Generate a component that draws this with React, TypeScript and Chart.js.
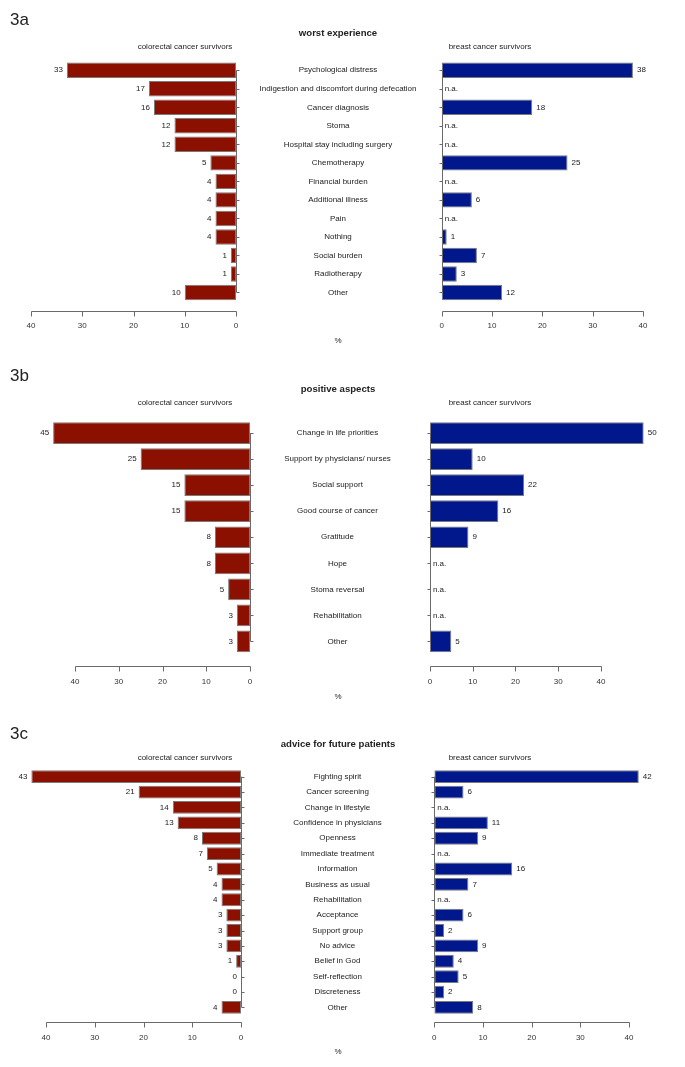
import React, { useEffect, useRef } from 'react';
import { Chart, registerables } from 'chart.js';

Chart.register(...registerables);

const FONT = "'Liberation Sans', Arial, Helvetica, sans-serif";
const RED = '#8B1000';
const BLUE = '#00188B';
const BAR_BORDER = '#7a7a7a';
const AXIS_COLOR = '#6a6a6a';
const TEXT_COLOR = '#222222';
const PAGE_W = 685;

const X_TICKS = [0, 10, 20, 30, 40];
const LEFT_TITLE = 'colorectal cancer survivors';
const RIGHT_TITLE = 'breast cancer survivors';
const AXIS_TITLE = '%';
const NA_TEXT = 'n.a.';

// ---- 3a ----
const A_TAG = '3a';
const A_TITLE = 'worst experience';
const A_CATEGORIES = [
  'Psychological distress',
  'Indigestion and discomfort during defecation',
  'Cancer diagnosis',
  'Stoma',
  'Hospital stay including surgery',
  'Chemotherapy',
  'Financial burden',
  'Additional illness',
  'Pain',
  'Nothing',
  'Social burden',
  'Radiotherapy',
  'Other',
];
const A_COLORECTAL = [33, 17, 16, 12, 12, 5, 4, 4, 4, 4, 1, 1, 10];
const A_BREAST = [38, null, 18, null, null, 25, null, 6, null, 1, 7, 3, 12];

// ---- 3b ----
const B_TAG = '3b';
const B_TITLE = 'positive aspects';
const B_CATEGORIES = [
  'Change in life priorities',
  'Support by physicians/ nurses',
  'Social support',
  'Good course of cancer',
  'Gratitude',
  'Hope',
  'Stoma reversal',
  'Rehabilitation',
  'Other',
];
const B_COLORECTAL = [45, 25, 15, 15, 8, 8, 5, 3, 3];
const B_BREAST = [50, 10, 22, 16, 9, null, null, null, 5];

// ---- 3c ----
const C_TAG = '3c';
const C_TITLE = 'advice for future patients';
const C_CATEGORIES = [
  'Fighting spirit',
  'Cancer screening',
  'Change in lifestyle',
  'Confidence in physicians',
  'Openness',
  'Immediate treatment',
  'Information',
  'Business as usual',
  'Rehabilitation',
  'Acceptance',
  'Support group',
  'No advice',
  'Belief in God',
  'Self-reflection',
  'Discreteness',
  'Other',
];
const C_COLORECTAL = [43, 21, 14, 13, 8, 7, 5, 4, 4, 3, 3, 3, 1, 0, 0, 4];
const C_BREAST = [42, 6, null, 11, 9, null, 16, 7, null, 6, 2, 9, 4, 5, 2, 8];

type Layout = {
  tagY: number;
  titleY: number;
  subY: number;
  firstRow: number;
  rowStep: number;
  axisY: number;
  tickLabelY: number;
  unitY: number;
  leftZero: number;
  leftForty: number;
  rightZero: number;
  rightForty: number;
  xMax: number;
};

const LAYOUT_A: Layout = {
  tagY: 19, titleY: 33, subY: 47, firstRow: 70, rowStep: 18.5,
  axisY: 311, tickLabelY: 325.5, unitY: 340.5,
  leftZero: 236, leftForty: 31, rightZero: 440, rightForty: 643, xMax: 40,
};
const LAYOUT_B: Layout = {
  tagY: 374.5, titleY: 388.5, subY: 403, firstRow: 433, rowStep: 26,
  axisY: 666, tickLabelY: 681.5, unitY: 697,
  leftZero: 250, leftForty: 75, rightZero: 425, rightForty: 600, xMax: 50,
};
const LAYOUT_C: Layout = {
  tagY: 733, titleY: 744, subY: 758, firstRow: 777, rowStep: 15.33,
  axisY: 1022.5, tickLabelY: 1037.5, unitY: 1052,
  leftZero: 241, leftForty: 46, rightZero: 434, rightForty: 629, xMax: 45,
};

type SideProps = {
  categories: string[];
  values: (number | null)[];
  side: 'left' | 'right';
  color: string;
  layout: Layout;
};

function SideChart({ categories, values, side, color, layout }: SideProps) {
  const ref = useRef<HTMLCanvasElement | null>(null);
  const n = categories.length;
  const chartTop = layout.firstRow - layout.rowStep / 2;
  const chartH = n * layout.rowStep;
  const chartBottom = chartTop + chartH;
  const axisH = layout.tickLabelY + 10 - chartBottom;
  const canvasH = Math.ceil(chartH + axisH);
  const isLeft = side === 'left';
  const canvasLeft = isLeft ? 0 : layout.rightZero - 20;
  const canvasW = isLeft ? layout.rightZero - 6 : PAGE_W - canvasLeft;

  useEffect(() => {
    const canvas = ref.current;
    if (!canvas) return;
    const zeroAbs = isLeft ? layout.leftZero : layout.rightZero;
    const fortyAbs = isLeft ? layout.leftForty : layout.rightForty;
    const ppu = Math.abs(zeroAbs - fortyAbs) / 40;
    const zeroRel = zeroAbs - canvasLeft;
    let padLeft = 0;
    let padRight = 0;
    let yWidth = 0;
    if (isLeft) {
      padLeft = zeroRel - ppu * layout.xMax;
      yWidth = canvasW - zeroRel;
    } else {
      yWidth = zeroRel;
      padRight = canvasW - (zeroRel + ppu * layout.xMax);
    }
    const axisYRel = layout.axisY - chartTop;
    const labelPad = layout.tickLabelY - chartBottom - 4.8;
    const centerX = (layout.leftZero + layout.rightZero) / 2 - canvasLeft;

    const decor = {
      id: 'sideDecor',
      afterDraw(chart: any) {
        const ctx = chart.ctx as CanvasRenderingContext2D;
        const xs = chart.scales.x;
        const ys = chart.scales.y;
        const zx = Math.round(xs.getPixelForValue(0)) + 0.5;
        ctx.save();
        ctx.strokeStyle = AXIS_COLOR;
        ctx.lineWidth = 1;
        // value axis (only spanning its ticks)
        const tv = xs.ticks.map((t: any) => t.value);
        const ay = Math.round(axisYRel) + 0.5;
        ctx.beginPath();
        ctx.moveTo(Math.round(xs.getPixelForValue(tv[0])) + 0.5, ay);
        ctx.lineTo(Math.round(xs.getPixelForValue(tv[tv.length - 1])) + 0.5, ay);
        tv.forEach((v: number) => {
          const px = Math.round(xs.getPixelForValue(v)) + 0.5;
          ctx.moveTo(px, ay);
          ctx.lineTo(px, ay + 5);
        });
        ctx.stroke();
        // category axis at zero
        const dir = isLeft ? 1 : -1;
        ctx.beginPath();
        ctx.moveTo(zx, ys.getPixelForTick(0));
        ctx.lineTo(zx, ys.getPixelForTick(n - 1));
        for (let i = 0; i < n; i++) {
          const py = Math.round(ys.getPixelForTick(i)) + 0.5;
          ctx.moveTo(zx, py);
          ctx.lineTo(zx + dir * 3, py);
        }
        ctx.stroke();
        // value labels
        ctx.font = `8px ${FONT}`;
        ctx.fillStyle = TEXT_COLOR;
        ctx.textBaseline = 'middle';
        values.forEach((v, i) => {
          const py = ys.getPixelForValue(i);
          if (v === null || v === undefined) {
            ctx.textAlign = isLeft ? 'right' : 'left';
            ctx.fillText(NA_TEXT, xs.getPixelForValue(0) + (isLeft ? -3 : 3), py);
          } else {
            const px = xs.getPixelForValue(v);
            ctx.textAlign = isLeft ? 'right' : 'left';
            ctx.fillText(String(v), px + (isLeft ? -4 : 4), py);
          }
        });
        // category labels in the middle
        if (isLeft) {
          ctx.textAlign = 'center';
          categories.forEach((c, i) => {
            ctx.fillText(c, centerX, ys.getPixelForTick(i));
          });
        }
        ctx.restore();
      },
    };

    const chart = new Chart(canvas, {
      type: 'bar',
      data: {
        labels: categories,
        datasets: [
          {
            data: values as any,
            backgroundColor: color,
            borderColor: BAR_BORDER,
            borderWidth: 1,
            borderSkipped: false,
            barPercentage: 0.833,
            categoryPercentage: 1,
          },
        ],
      },
      options: {
        indexAxis: 'y',
        animation: false,
        responsive: false,
        maintainAspectRatio: false,
        events: [],
        layout: { padding: { left: padLeft, right: padRight, top: 0, bottom: 0 } },
        plugins: {
          legend: { display: false },
          tooltip: { enabled: false },
          title: { display: false },
        },
        scales: {
          x: {
            type: 'linear',
            position: 'bottom',
            reverse: isLeft,
            min: 0,
            max: layout.xMax,
            grid: { display: false, drawTicks: false },
            border: { display: false },
            ticks: {
              padding: labelPad,
              maxRotation: 0,
              autoSkip: false,
              color: '#333333',
              font: { family: FONT, size: 8 },
            },
            afterBuildTicks: (s: any) => {
              s.ticks = X_TICKS.map((v) => ({ value: v }));
            },
            afterFit: (s: any) => {
              s.height = axisH;
            },
          },
          y: {
            type: 'category',
            position: isLeft ? 'right' : 'left',
            grid: { display: false, drawTicks: false },
            border: { display: false },
            ticks: { display: false },
            afterFit: (s: any) => {
              s.width = yWidth;
            },
          },
        },
      },
      plugins: [decor],
    } as any);
    return () => chart.destroy();
  }, []);

  return (
    <canvas
      ref={ref}
      width={canvasW}
      height={canvasH}
      style={{
        position: 'absolute',
        left: canvasLeft,
        top: chartTop,
        width: canvasW,
        height: canvasH,
      }}
    />
  );
}

function Txt({
  x,
  y,
  size,
  bold,
  align,
  children,
}: {
  x: number;
  y: number;
  size: number;
  bold?: boolean;
  align?: 'left' | 'center';
  children: React.ReactNode;
}) {
  return (
    <div
      style={{
        position: 'absolute',
        left: x,
        top: y,
        transform: `translate(${align === 'left' ? '0' : '-50%'}, -50%)`,
        willChange: 'transform',
        fontFamily: FONT,
        fontSize: size,
        fontWeight: bold ? 'bold' : 'normal',
        color: TEXT_COLOR,
        whiteSpace: 'nowrap',
        lineHeight: 1,
      }}
    >
      {children}
    </div>
  );
}

function Panel({
  tag,
  title,
  categories,
  colorectal,
  breast,
  layout,
}: {
  tag: string;
  title: string;
  categories: string[];
  colorectal: (number | null)[];
  breast: (number | null)[];
  layout: Layout;
}) {
  const mid = (layout.leftZero + layout.rightZero) / 2;
  return (
    <>
      <Txt x={10} y={layout.tagY} size={17} align="left">
        {tag}
      </Txt>
      <Txt x={mid} y={layout.titleY} size={9.6} bold>
        {title}
      </Txt>
      <Txt x={185} y={layout.subY} size={8}>
        {LEFT_TITLE}
      </Txt>
      <Txt x={490} y={layout.subY} size={8}>
        {RIGHT_TITLE}
      </Txt>
      <SideChart categories={categories} values={colorectal} side="left" color={RED} layout={layout} />
      <SideChart categories={categories} values={breast} side="right" color={BLUE} layout={layout} />
      <Txt x={mid} y={layout.unitY} size={8}>
        {AXIS_TITLE}
      </Txt>
    </>
  );
}

export default function App() {
  return (
    <div
      style={{
        position: 'absolute',
        left: 0,
        top: 0,
        width: PAGE_W,
        height: 1067,
        background: '#ffffff',
        overflow: 'hidden',
      }}
    >
      <Panel tag={A_TAG} title={A_TITLE} categories={A_CATEGORIES} colorectal={A_COLORECTAL} breast={A_BREAST} layout={LAYOUT_A} />
      <Panel tag={B_TAG} title={B_TITLE} categories={B_CATEGORIES} colorectal={B_COLORECTAL} breast={B_BREAST} layout={LAYOUT_B} />
      <Panel tag={C_TAG} title={C_TITLE} categories={C_CATEGORIES} colorectal={C_COLORECTAL} breast={C_BREAST} layout={LAYOUT_C} />
    </div>
  );
}
